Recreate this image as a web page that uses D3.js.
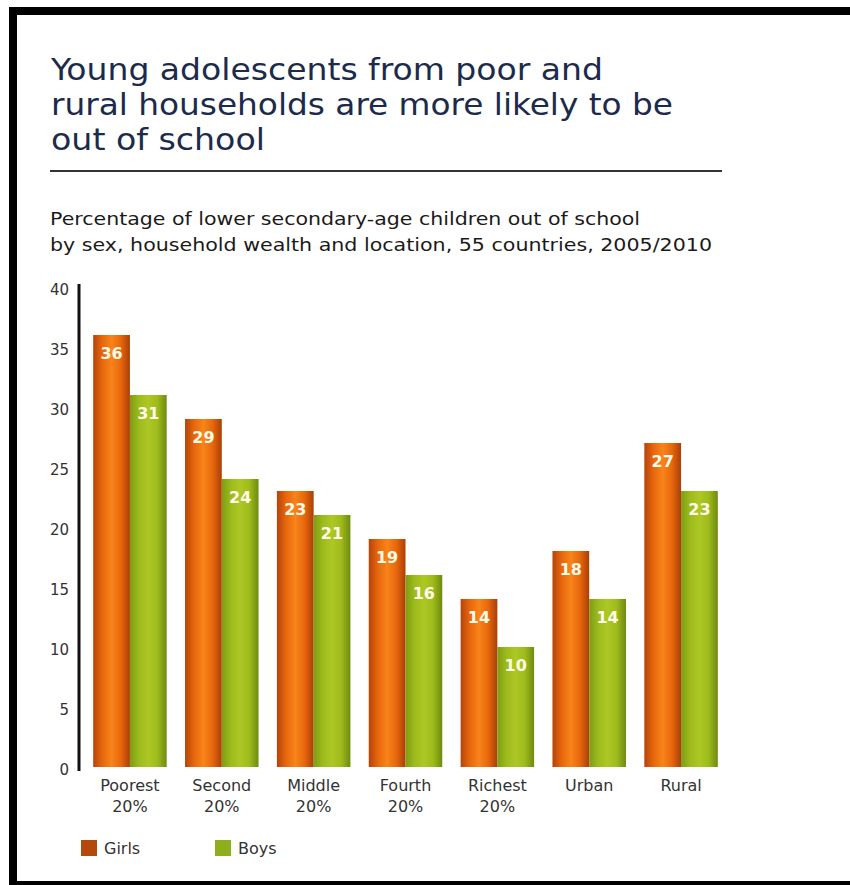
<!DOCTYPE html>
<html>
<head>
<meta charset="utf-8">
<script src="https://cdn.jsdelivr.net/npm/d3@7"></script>
<style>
  html, body { margin: 0; padding: 0; background: #fff; }
  svg { display: block; }
</style>
</head>
<body>
<svg id="chart" width="850" height="885"></svg>
<script>
// data
const categories = [['Poorest', '20%'], ['Second', '20%'], ['Middle', '20%'], ['Fourth', '20%'], ['Richest', '20%'], ['Urban'], ['Rural']]
const girls = [36, 29, 23, 19, 14, 18, 27]
const boys = [31, 24, 21, 16, 10, 14, 23]
const seriesNames = ['Girls', 'Boys']
const yTicks = [0, 5, 10, 15, 20, 25, 30, 35, 40]

const titleLines = ['Young adolescents from poor and', 'rural households are more likely to be', 'out of school']
const subtitleLines = ['Percentage of lower secondary-age children out of school',
  'by sex, household wealth and location, 55 countries, 2005/2010']

const svg = d3.select('#chart')
const labelFont = '"DejaVu Sans", "Noto Sans", sans-serif'

// frame: thick black on top, left and bottom
svg.append('rect').attr('x', 9).attr('y', 7).attr('width', 841).attr('height', 8).attr('fill', '#000')
svg.append('rect').attr('x', 9).attr('y', 7).attr('width', 8).attr('height', 878).attr('fill', '#000')
svg.append('rect').attr('x', 9).attr('y', 881).attr('width', 841).attr('height', 4).attr('fill', '#000')

// title
const titleWidths = [552, 622, 214]
svg.append('g').selectAll('text')
  .data(titleLines)
  .enter().append('text')
  .attr('x', 51)
  .attr('y', (d, i) => 80 + i * 35)
  .attr('textLength', (d, i) => titleWidths[i])
  .attr('lengthAdjust', 'spacingAndGlyphs')
  .style('font-family', '"Liberation Sans Narrow", "DejaVu Sans Condensed", sans-serif')
  .style('font-size', '30px')
  .style('fill', '#1c2b4b')
  .text(d => d)

svg.append('line')
  .attr('x1', 50).attr('x2', 722)
  .attr('y1', 171).attr('y2', 171)
  .attr('stroke', '#333').attr('stroke-width', 2)

const subWidths = [590, 662]
svg.append('g').selectAll('text')
  .data(subtitleLines)
  .enter().append('text')
  .attr('x', 50)
  .attr('y', (d, i) => 225 + i * 26)
  .attr('textLength', (d, i) => subWidths[i])
  .attr('lengthAdjust', 'spacingAndGlyphs')
  .style('font-family', labelFont)
  .style('font-size', '17px')
  .style('fill', '#1a1a1a')
  .text(d => d)

// scales
const x = d3.scaleBand()
  .domain(d3.range(categories.length))
  .range([84, 727])
  .paddingInner(0.2)
  .paddingOuter(0.1)

const x1 = d3.scaleBand()
  .domain(seriesNames)
  .range([0, x.bandwidth()])

const y = d3.scaleLinear()
  .domain([0, 40])
  .range([767, 287])

// gradients for the rounded look of the bars
const defs = svg.append('defs')
const grads = {
  Girls: ['#b4440a', '#e8670c', '#f8841a', '#e8670c', '#a93f08'],
  Boys: ['#7f9c14', '#9ebb1c', '#adc825', '#9ebb1c', '#6e8a10']
}
Object.keys(grads).forEach(k => {
  const g = defs.append('linearGradient').attr('id', 'grad-' + k)
    .attr('x1', '0%').attr('x2', '100%').attr('y1', '0%').attr('y2', '0%')
  grads[k].forEach((c, i) => {
    g.append('stop').attr('offset', (i / (grads[k].length - 1) * 100) + '%').attr('stop-color', c)
  })
})

// y axis
svg.append('line')
  .attr('x1', 79).attr('x2', 79)
  .attr('y1', 284).attr('y2', 771)
  .attr('stroke', '#111').attr('stroke-width', 3)

svg.append('g').selectAll('text')
  .data(yTicks)
  .enter().append('text')
  .attr('x', 69)
  .attr('y', d => y(d) + 3)
  .attr('text-anchor', 'end')
  .attr('dominant-baseline', 'middle')
  .style('font-family', labelFont)
  .style('font-size', '15px')
  .style('fill', '#333')
  .text(d => d)

// bars
const rows = categories.map((c, i) => ({ i: i, values: [girls[i], boys[i]] }))

const groups = svg.append('g').selectAll('g')
  .data(rows)
  .enter().append('g')
  .attr('transform', d => 'translate(' + x(d.i) + ',0)')

groups.selectAll('rect')
  .data(d => d.values.map((v, j) => ({ key: seriesNames[j], value: v })))
  .enter().append('rect')
  .attr('x', d => x1(d.key))
  .attr('y', d => y(d.value))
  .attr('width', x1.bandwidth())
  .attr('height', d => y(0) - y(d.value))
  .attr('fill', d => 'url(#grad-' + d.key + ')')

groups.selectAll('text.value')
  .data(d => d.values.map((v, j) => ({ key: seriesNames[j], value: v })))
  .enter().append('text')
  .attr('class', 'value')
  .attr('x', d => x1(d.key) + x1.bandwidth() / 2)
  .attr('y', d => y(d.value) + 24)
  .attr('text-anchor', 'middle')
  .style('font-family', labelFont)
  .style('font-size', '16px')
  .style('font-weight', 'bold')
  .style('fill', '#fffbe8')
  .text(d => d.value)

// category labels
const catLabels = svg.append('g').selectAll('text')
  .data(categories)
  .enter().append('text')
  .attr('x', (d, i) => x(i) + x.bandwidth() / 2)
  .attr('y', 791)
  .attr('text-anchor', 'middle')
  .style('font-family', labelFont)
  .style('font-size', '16px')
  .style('fill', '#333')

catLabels.selectAll('tspan')
  .data(d => d)
  .enter().append('tspan')
  .attr('x', function() { return this.parentNode.getAttribute('x') })
  .attr('dy', (d, i) => i === 0 ? 0 : 21)
  .text(d => d)

// legend
const legendColors = { Girls: '#b34a0c', Boys: '#8fae1c' }
const legend = svg.append('g').selectAll('g')
  .data(seriesNames)
  .enter().append('g')
  .attr('transform', (d, i) => 'translate(' + (81 + i * 134) + ',840)')

legend.append('rect')
  .attr('width', 16).attr('height', 16)
  .attr('fill', d => legendColors[d])

legend.append('text')
  .attr('x', 23)
  .attr('y', 14)
  .style('font-family', labelFont)
  .style('font-size', '16px')
  .style('fill', '#333')
  .text(d => d)
</script>
</body>
</html>
